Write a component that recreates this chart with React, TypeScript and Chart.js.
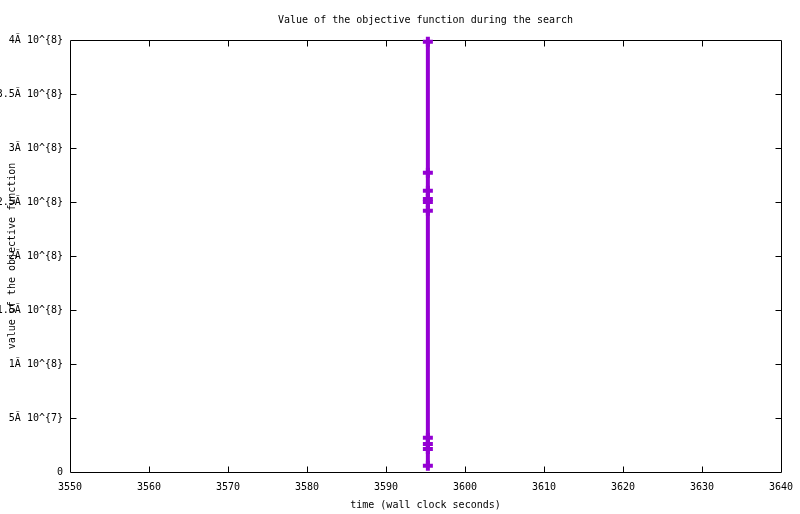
import React, { useEffect, useRef } from "react";
import { Chart, registerables } from "chart.js";

Chart.register(...registerables);

const chartTitle = "Value of the objective function during the search";
const xAxisTitle = "time (wall clock seconds)";
const yAxisTitle = "value of the objective function";

const times = [3595.3, 3595.3, 3595.3, 3595.3, 3595.3, 3595.3, 3595.3, 3595.3, 3595.3, 3595.3];
const objective = [3.984e8, 2.771e8, 2.605e8, 2.528e8, 2.5e8, 2.419e8, 3.18e7, 2.59e7, 2.13e7, 5.8e6];

const xMin = 3550;
const xMax = 3640;
const xStep = 10;
const yMin = 0;
const yMax = 4e8;
const yStep = 5e7;
const yTickLabels = [
  "0",
  "5Ã 10^{7}",
  "1Ã 10^{8}",
  "1.5Ã 10^{8}",
  "2Ã 10^{8}",
  "2.5Ã 10^{8}",
  "3Ã 10^{8}",
  "3.5Ã 10^{8}",
  "4Ã 10^{8}",
];

const FONT_FAMILY = "'DejaVu Sans Mono', 'Liberation Mono', monospace";
const FONT_SIZE = 10;
const COLOR = "#9400D3";

export default function App() {
  const ref = useRef<HTMLCanvasElement | null>(null);

  useEffect(() => {
    const canvas = ref.current;
    if (!canvas) return;

    const framePlugin = {
      id: "gnuplotFrame",
      beforeDatasetsDraw(chart: any) {
        const { ctx, chartArea } = chart;
        const { left, right, top, bottom } = chartArea;
        const xs = chart.scales.x;
        const ys = chart.scales.y;
        const tick = 6;
        ctx.save();
        ctx.strokeStyle = "#000";
        ctx.lineWidth = 1;
        ctx.beginPath();
        const L = Math.round(left) + 0.5;
        const R = Math.round(right) + 0.5;
        const T = Math.round(top) + 0.5;
        const B = Math.round(bottom) + 0.5;
        ctx.rect(L, T, R - L, B - T);
        for (let v = xMin + xStep; v < xMax; v += xStep) {
          const px = Math.round(xs.getPixelForValue(v)) + 0.5;
          ctx.moveTo(px, B);
          ctx.lineTo(px, B - tick);
          ctx.moveTo(px, T);
          ctx.lineTo(px, T + tick);
        }
        for (let v = yMin + yStep; v < yMax; v += yStep) {
          const py = Math.round(ys.getPixelForValue(v)) + 0.5;
          ctx.moveTo(L, py);
          ctx.lineTo(L + tick, py);
          ctx.moveTo(R, py);
          ctx.lineTo(R - tick, py);
        }
        ctx.stroke();

        ctx.fillStyle = "#000";
        ctx.font = `${FONT_SIZE}px ${FONT_FAMILY}`;
        ctx.textAlign = "center";
        ctx.textBaseline = "middle";
        ctx.fillText(chartTitle, (left + right) / 2, 20);
        ctx.fillText(xAxisTitle, (left + right) / 2, 505);
        ctx.translate(12, (top + bottom) / 2);
        ctx.rotate(-Math.PI / 2);
        ctx.fillText(yAxisTitle, 0, 0);
        ctx.restore();
      },
    };

    const chart = new Chart(canvas, {
      type: "line",
      data: {
        datasets: [
          {
            data: times.map((t, i) => ({ x: t, y: objective[i] })),
            borderColor: COLOR,
            backgroundColor: COLOR,
            borderWidth: 4,
            pointStyle: "cross",
            pointRadius: 5,
            pointBorderWidth: 4,
            pointBorderColor: COLOR,
            pointHoverRadius: 5,
            clip: false as any,
            tension: 0,
          },
        ],
      },
      options: {
        animation: false,
        responsive: false,
        maintainAspectRatio: false,
        layout: { padding: { top: 40, right: 19, left: 0, bottom: 0 } },
        plugins: {
          legend: { display: false },
          title: { display: false },
          tooltip: { enabled: false },
        },
        scales: {
          x: {
            type: "linear",
            min: xMin,
            max: xMax,
            grid: { display: false, drawTicks: false },
            border: { display: false },
            ticks: {
              stepSize: xStep,
              padding: 9,
              color: "#000",
              maxRotation: 0,
              autoSkip: false,
              font: { family: FONT_FAMILY, size: FONT_SIZE },
              callback: (v: any) => String(v),
            },
            afterFit: (s: any) => {
              s.height = 42;
              s.paddingLeft = 0;
              s.paddingRight = 0;
            },
          },
          y: {
            type: "linear",
            min: yMin,
            max: yMax,
            grid: { display: false, drawTicks: false },
            border: { display: false },
            ticks: {
              stepSize: yStep,
              padding: 7,
              color: "#000",
              autoSkip: false,
              font: { family: FONT_FAMILY, size: FONT_SIZE },
              callback: (v: any) => {
                const idx = Math.round((Number(v) - yMin) / yStep);
                return yTickLabels[idx] ?? "";
              },
            },
            afterFit: (s: any) => {
              s.width = 70;
              s.paddingTop = 0;
              s.paddingBottom = 0;
            },
          },
        },
      },
      plugins: [framePlugin],
    } as any);

    return () => chart.destroy();
  }, []);

  return (
    <div style={{ position: "fixed", left: 0, top: 0, width: 800, height: 514, background: "#fff" }}>
      <canvas ref={ref} width={800} height={514} style={{ width: 800, height: 514, display: "block" }} />
    </div>
  );
}
